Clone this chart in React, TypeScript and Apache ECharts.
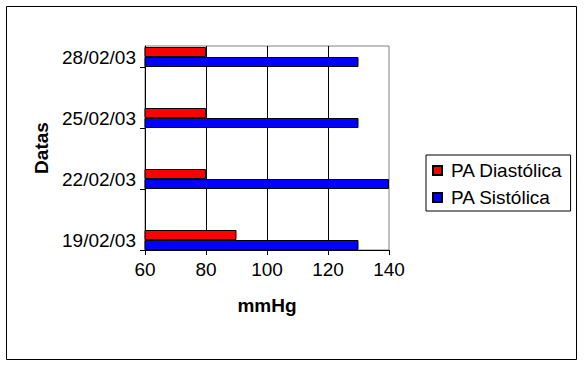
import React, { useEffect, useRef } from "react";
import * as echarts from "echarts";

const categories = ["19/02/03", "22/02/03", "25/02/03", "28/02/03"];
const diastolica = [90, 80, 80, 80];
const sistolica = [130, 140, 130, 130];
const seriesNames = ["PA Diastólica", "PA Sistólica"];
const xMin = 60;
const xMax = 140;
const xStep = 20;
const bandTicks = [0, 1, 2, 3];

const FONT = 'Arial, "Liberation Sans", sans-serif';
const FS = 19;

export default function App() {
  const ref = useRef<HTMLDivElement>(null);
  useEffect(() => {
    if (!ref.current) return;
    const chart = echarts.init(ref.current, null, { renderer: "svg" });
    const option: any = {
      animation: false,
      backgroundColor: "#ffffff",
      textStyle: { fontFamily: FONT },
      graphic: [
        {
          type: "rect",
          shape: { x: 6.5, y: 6.5, width: 570, height: 353 },
          style: { fill: "none", stroke: "#000", lineWidth: 1 },
          silent: true,
        },
      ],
      legend: {
        orient: "vertical",
        left: 426,
        top: 155,
        padding: [6, 8, 4, 6],
        borderColor: "#000",
        borderWidth: 1,
        itemGap: 8,
        itemWidth: 9,
        itemHeight: 9,
        icon: "rect",
        data: seriesNames,
        textStyle: {
          fontFamily: FONT,
          fontSize: FS,
          color: "#000",
          padding: [0, 0, 0, 4],
        },
      },
      grid: [
        {
          left: 145,
          top: 46,
          width: 244,
          height: 204,
          show: true,
          borderColor: "#808080",
          borderWidth: 1,
          backgroundColor: "#fff",
        },
        {
          left: 145,
          top: 26.5,
          width: 244,
          height: 244,
        },
      ],
      xAxis: [
        {
          gridIndex: 0,
          type: "value",
          min: xMin,
          max: xMax,
          interval: xStep,
          axisLine: { show: true, lineStyle: { color: "#000", width: 1 } },
          axisTick: { show: true, length: 5, lineStyle: { color: "#000" } },
          axisLabel: { fontFamily: FONT, fontSize: FS, color: "#000", margin: 10 },
          splitLine: {
            show: true,
            showMinLine: false,
            showMaxLine: false,
            lineStyle: { color: "#000", width: 1 },
          },
          name: "mmHg",
          nameLocation: "middle",
          nameGap: 46,
          nameTextStyle: { fontFamily: FONT, fontSize: FS, fontWeight: "bold", color: "#000" },
        },
        {
          gridIndex: 1,
          type: "value",
          min: xMin,
          max: xMax,
          interval: xStep,
          show: false,
        },
      ],
      yAxis: [
        {
          gridIndex: 0,
          type: "value",
          min: 0,
          max: 204 / 61,
          interval: 1,
          axisLine: { show: true, lineStyle: { color: "#000", width: 1 } },
          axisTick: { show: true, length: 5, customValues: bandTicks, lineStyle: { color: "#000" } },
          axisLabel: { show: false },
          splitLine: { show: false },
          name: "Datas",
          nameLocation: "middle",
          nameGap: 94,
          nameRotate: 90,
          nameTextStyle: { fontFamily: FONT, fontSize: FS, fontWeight: "bold", color: "#000" },
        },
        {
          gridIndex: 1,
          type: "category",
          data: categories,
          axisLine: { show: false },
          axisTick: { show: false },
          splitLine: { show: false },
          axisLabel: { fontFamily: FONT, fontSize: FS, color: "#000", margin: 9 },
        },
      ],
      series: [
        {
          name: seriesNames[0],
          type: "bar",
          xAxisIndex: 1,
          yAxisIndex: 1,
          data: diastolica,
          barWidth: 10,
          barGap: "0%",
          itemStyle: { color: "#ff0000", borderColor: "#000", borderWidth: 1 },
        },
        {
          name: seriesNames[1],
          type: "bar",
          xAxisIndex: 1,
          yAxisIndex: 1,
          data: sistolica,
          barWidth: 10,
          barGap: "0%",
          itemStyle: { color: "#0000ff", borderColor: "#000", borderWidth: 1 },
        },
      ],
    };
    chart.setOption(option);
    return () => chart.dispose();
  }, []);
  return (
    <div
      ref={ref}
      style={{ position: "fixed", left: 0, top: 0, width: 584, height: 367 }}
    />
  );
}
